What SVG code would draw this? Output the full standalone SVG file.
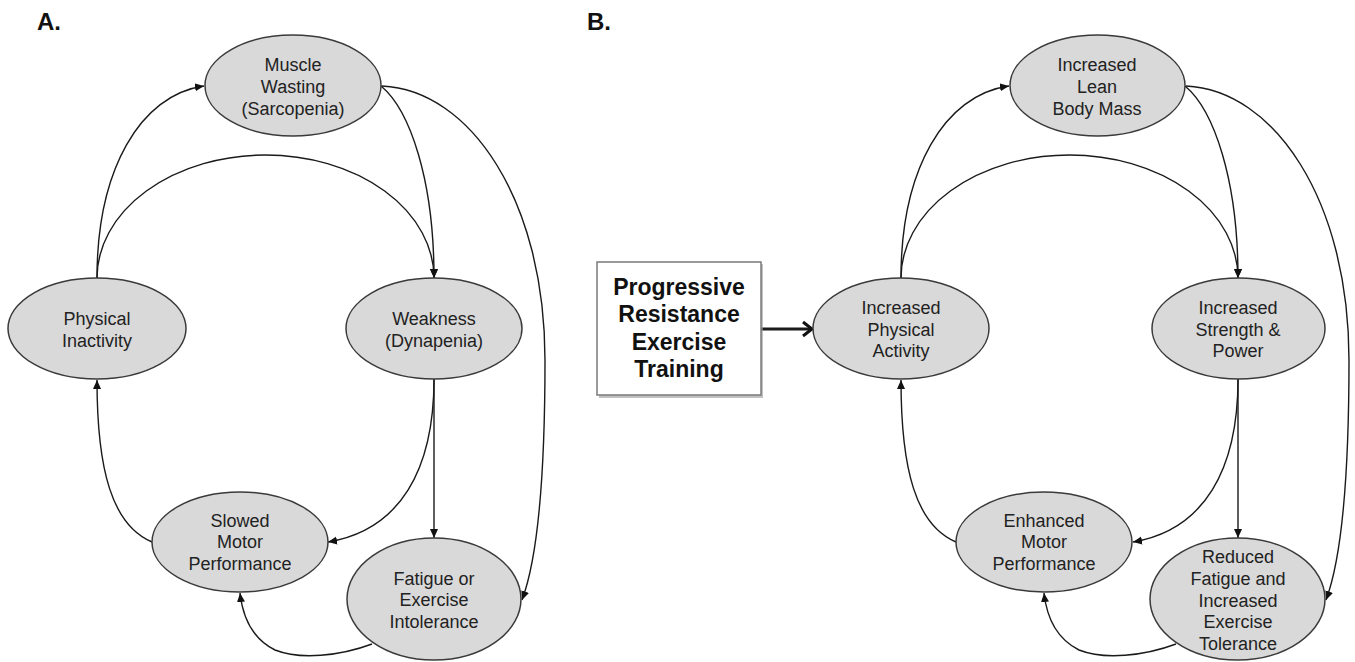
<svg xmlns="http://www.w3.org/2000/svg" width="1355" height="662" viewBox="0 0 1355 662">
<defs>
<style>
.node ellipse{fill:#d9d9d9;stroke:#3a3a3a;stroke-width:1.5}
.lbl{font-family:"Liberation Sans",Arial,sans-serif;font-size:18px;fill:#222;text-anchor:middle}
.panel{font-family:"Liberation Sans",Arial,sans-serif;font-size:24px;font-weight:bold;fill:#111}
.box text{font-family:"Liberation Sans",Arial,sans-serif;font-size:23px;font-weight:bold;fill:#111;text-anchor:middle}
.conn path{fill:none;stroke:#1a1a1a;stroke-width:1.4}
</style>
<marker id="ah" markerUnits="userSpaceOnUse" markerWidth="10" markerHeight="9" refX="9" refY="4" orient="auto" viewBox="0 0 10 8">
<path d="M0,0 L9,4 L0,8 z" fill="#111"/>
</marker>
<marker id="ch" markerUnits="userSpaceOnUse" markerWidth="14" markerHeight="18" refX="11" refY="8" orient="auto" viewBox="0 0 14 16">
<path d="M2,1 L11,8 L2,15" fill="none" stroke="#111" stroke-width="3"/>
</marker>
</defs>
<rect width="1355" height="662" fill="#fff"/>

<text class="panel" x="37" y="30">A.</text>
<text class="panel" x="587" y="30">B.</text>

<g id="connectors" class="conn">
<!-- Panel A -->
<path d="M97,278 C97,170 140,95 204,86" marker-end="url(#ah)"/>
<path d="M97,278 A168.5,123 0 0 1 434,278" marker-end="url(#ah)"/>
<path d="M381,86 C410,110 434,180 434,278" marker-end="url(#ah)"/>
<path d="M382,86 C470,90 545,200 545,360 C545,480 537,560 522,600" marker-end="url(#ah)"/>
<path d="M434,379 L434,538" marker-end="url(#ah)"/>
<path d="M434,379 C434,470 400,530 328,542" marker-end="url(#ah)"/>
<path d="M152,542 C112,525 97,470 97,380" marker-end="url(#ah)"/>
<path d="M372,644 C340,656 300,660 275,650 C255,640 243,620 240,593" marker-end="url(#ah)"/>
<!-- Panel B -->
<path d="M761,329 L812,329" style="stroke-width:3" marker-end="url(#ch)"/>
<path d="M901,278 C901,170 944,95 1009,86" marker-end="url(#ah)"/>
<path d="M901,278 A168.5,123 0 0 1 1238,278" marker-end="url(#ah)"/>
<path d="M1185,86 C1214,110 1238,180 1238,278" marker-end="url(#ah)"/>
<path d="M1186,86 C1274,90 1349,200 1349,360 C1349,480 1341,560 1326,600" marker-end="url(#ah)"/>
<path d="M1238,379 L1238,538" marker-end="url(#ah)"/>
<path d="M1238,379 C1238,470 1204,530 1133,542" marker-end="url(#ah)"/>
<path d="M956,542 C916,525 901,470 901,380" marker-end="url(#ah)"/>
<path d="M1176,644 C1144,656 1104,660 1079,650 C1059,640 1047,620 1044,593" marker-end="url(#ah)"/>
</g>

<!-- Panel A nodes -->
<g id="muscle-wasting" class="node">
<ellipse cx="293" cy="85.5" rx="88" ry="50.5"/>
<text class="lbl" x="293" y="71">Muscle</text>
<text class="lbl" x="293" y="93">Wasting</text>
<text class="lbl" x="293" y="115">(Sarcopenia)</text>
</g>
<g id="physical-inactivity" class="node">
<ellipse cx="97" cy="328.5" rx="89" ry="50.5"/>
<text class="lbl" x="97" y="325">Physical</text>
<text class="lbl" x="97" y="347">Inactivity</text>
</g>
<g id="weakness" class="node">
<ellipse cx="434" cy="328.5" rx="88" ry="50.5"/>
<text class="lbl" x="434" y="325">Weakness</text>
<text class="lbl" x="434" y="347">(Dynapenia)</text>
</g>
<g id="slowed-motor" class="node">
<ellipse cx="240" cy="542" rx="88" ry="50"/>
<text class="lbl" x="240" y="527">Slowed</text>
<text class="lbl" x="240" y="548">Motor</text>
<text class="lbl" x="240" y="570">Performance</text>
</g>
<g id="fatigue" class="node">
<ellipse cx="434" cy="599" rx="87" ry="61"/>
<text class="lbl" x="434" y="585">Fatigue or</text>
<text class="lbl" x="434" y="606">Exercise</text>
<text class="lbl" x="434" y="628">Intolerance</text>
</g>

<!-- Panel B nodes -->
<g id="prt-box" class="box">
<rect x="599" y="264" width="164" height="134" fill="#9a9a9a" opacity="0.6"/>
<rect x="597" y="262" width="164" height="133" fill="#fff" stroke="#7a7a7a" stroke-width="1.5"/>
<text x="679" y="295">Progressive</text>
<text x="679" y="322">Resistance</text>
<text x="679" y="350">Exercise</text>
<text x="679" y="377">Training</text>
</g>
<g id="lean-body-mass" class="node">
<ellipse cx="1097.5" cy="85.5" rx="87.5" ry="50.5"/>
<text class="lbl" x="1097" y="71">Increased</text>
<text class="lbl" x="1097" y="93">Lean</text>
<text class="lbl" x="1097" y="115">Body Mass</text>
</g>
<g id="physical-activity" class="node">
<ellipse cx="901" cy="328.5" rx="88" ry="50.5"/>
<text class="lbl" x="901" y="314">Increased</text>
<text class="lbl" x="901" y="335.5">Physical</text>
<text class="lbl" x="901" y="357">Activity</text>
</g>
<g id="strength-power" class="node">
<ellipse cx="1238.5" cy="328.5" rx="86.5" ry="50.5"/>
<text class="lbl" x="1238" y="314">Increased</text>
<text class="lbl" x="1238" y="335.5">Strength &amp;</text>
<text class="lbl" x="1238" y="357">Power</text>
</g>
<g id="enhanced-motor" class="node">
<ellipse cx="1044" cy="542" rx="88" ry="50"/>
<text class="lbl" x="1044" y="527">Enhanced</text>
<text class="lbl" x="1044" y="548">Motor</text>
<text class="lbl" x="1044" y="570">Performance</text>
</g>
<g id="reduced-fatigue" class="node">
<ellipse cx="1237.5" cy="599" rx="87.5" ry="61"/>
<text class="lbl" x="1238" y="563">Reduced</text>
<text class="lbl" x="1238" y="585">Fatigue and</text>
<text class="lbl" x="1238" y="607">Increased</text>
<text class="lbl" x="1238" y="628">Exercise</text>
<text class="lbl" x="1238" y="650">Tolerance</text>
</g>
</svg>
